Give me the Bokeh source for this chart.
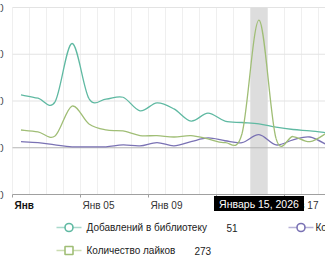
import numpy as np
from bokeh.plotting import figure
from bokeh.models import Range1d, ColumnDataSource
from bokeh.layouts import column
from bokeh.embed import file_html
from bokeh.resources import INLINE
from bokeh.core.properties import value

# ---------------- data ----------------
days = list(range(1, 20))  # January 1..19, 2026
series_names = ["Добавлений в библиотеку", "Количество комментариев", "Количество лайков"]
adds = [113, 106, 98, 223, 105, 104, 108, 79, 96, 83, 57, 74, 57, 54, 51, 44, 39, 36, 32]
comments = [13, 11, 6, 2, 2, 2, 6, 4, 11, 4, 13, 21, 15, 11, 28, 6, 17, 23, 6]
likes = [38, 34, 25, 89, 51, 38, 36, 26, 26, 23, 26, 19, 11, 30, 273, 20, 24, 13, 32]
tick_days = [1, 5, 9, 13, 17]
tick_labels = ["Янв", "Янв 05", "Янв 09", "Янв 13", "Янв 17"]
y_ticks = [-100, 0, 100, 200, 300]
y_tick_labels = ["-100", "0", "100", "200", "300"]
selected_day = 15
selected_label = "Январь 15, 2026"

# ---------------- style / layout ----------------
colors = ["#5fb9a2", "#7a72b4", "#a0be76"]
light_colors = ["#a9d9cc", "#b7b2d8", "#cadcb0"]
FONT = "Liberation Sans"
PX_PER_DAY = 17.0
LEFT_PX = 12          # plot area starts here
TOP_PX = 7            # top gridline
PLOT_H_PX = 187       # from top gridline to axis line
FIG1_H = 215
YPX = (y_ticks[-1] - y_ticks[0]) / PLOT_H_PX   # value units per pixel
XPX = 1.0 / PX_PER_DAY                          # days per pixel

x_start = -LEFT_PX * XPX
x_end = (325 - LEFT_PX) * XPX
y_top = y_ticks[-1] + TOP_PX * YPX
y_bot = y_ticks[0] - (FIG1_H - TOP_PX - PLOT_H_PX) * YPX

p = figure(width=325, height=FIG1_H,
           x_range=Range1d(x_start, x_end), y_range=Range1d(y_bot, y_top),
           x_axis_type=None, y_axis_type=None,
           toolbar_location=None, output_backend="svg",
           min_border_left=0, min_border_right=0, min_border_top=0, min_border_bottom=0)
p.outline_line_color = None
p.background_fill_color = "white"
p.border_fill_color = "white"

# vertical day gridlines
vx = list(range(0, len(days)))
p.segment(x0=vx, y0=[y_ticks[0]] * len(vx), x1=vx, y1=[y_ticks[-1]] * len(vx),
          line_color="#efefef", line_width=1)
# horizontal gridlines
hy = [t for t in y_ticks if t > 0]
p.segment(x0=[0] * len(hy), y0=hy, x1=[x_end] * len(hy), y1=hy, line_color="#e3e3e3", line_width=1)

# highlighted day band
p.quad(left=[selected_day - 1], right=[selected_day], bottom=[y_ticks[0]], top=[y_ticks[-1]],
       fill_color="#dddddd", line_color=None)

# zero line
p.segment(x0=[0], y0=[0], x1=[x_end], y1=[0], line_color="#b4b4b4", line_width=1)
# axis line and ticks
p.segment(x0=[0], y0=[y_ticks[0]], x1=[x_end], y1=[y_ticks[0]], line_color="#a0a0a0", line_width=1)
tx = [d - 1 for d in tick_days]
p.segment(x0=tx, y0=[y_ticks[0]] * len(tx), x1=tx, y1=[y_ticks[0] - 3 * YPX] * len(tx),
          line_color="#a0a0a0", line_width=1)


def bezier_segments(xs, ys):
    xs = np.asarray(xs, dtype=float)
    ys = np.asarray(ys, dtype=float)
    n = len(xs)
    out = {k: [] for k in ("x0", "y0", "x1", "y1", "cx0", "cy0", "cx1", "cy1")}
    for i in range(n - 1):
        i0 = max(i - 1, 0)
        i3 = min(i + 2, n - 1)
        out["x0"].append(xs[i]); out["y0"].append(ys[i])
        out["x1"].append(xs[i + 1]); out["y1"].append(ys[i + 1])
        out["cx0"].append(xs[i] + (xs[i + 1] - xs[i0]) / 6)
        out["cy0"].append(ys[i] + (ys[i + 1] - ys[i0]) / 6)
        out["cx1"].append(xs[i + 1] - (xs[i3] - xs[i]) / 6)
        out["cy1"].append(ys[i + 1] - (ys[i3] - ys[i]) / 6)
    return ColumnDataSource(out)


xc = [d - 0.5 for d in days]  # day centres
for vals, col in zip([adds, comments, likes], colors):
    src = bezier_segments(xc, vals)
    p.bezier(x0="x0", y0="y0", x1="x1", y1="y1", cx0="cx0", cy0="cy0", cx1="cx1", cy1="cy1",
             source=src, line_color=col, line_width=1.3)

# y tick labels (mostly cut off at the left edge)
p.text(x=[-9 * XPX] * len(y_ticks), y=y_ticks, text=y_tick_labels, text_align="right",
       text_baseline="middle", text_font=value(FONT), text_font_size="10px", text_color="#444444")

# x tick labels
lab_y = y_ticks[0] - 11 * YPX
p.text(x=[tx[0] + 2 * XPX], y=[lab_y], text=[tick_labels[0]], text_align="left",
       text_baseline="middle", text_font=value(FONT), text_font_size="10px",
       text_font_style="bold", text_color="#111111")
p.text(x=[t + 2 * XPX for t in tx[1:]], y=[lab_y] * (len(tx) - 1), text=tick_labels[1:],
       text_align="left", text_baseline="middle", text_font=value(FONT), text_font_size="10px",
       text_color="#333333")

# selected date box
box_y = y_ticks[0] - 9 * YPX
p.rect(x=[selected_day - 0.5], y=[box_y], width=90, height=15, width_units="screen",
       height_units="screen", fill_color="black", line_color=None)
p.text(x=[selected_day - 0.5], y=[box_y], text=[selected_label], text_align="center",
       text_baseline="middle", text_font=value(FONT), text_font_size="10.5px", text_color="white")

# ---------------- legend ----------------
q = figure(width=325, height=55, x_range=Range1d(0, 325), y_range=Range1d(55, 0),
           x_axis_type=None, y_axis_type=None, toolbar_location=None, output_backend="svg",
           min_border_left=0, min_border_right=0, min_border_top=0, min_border_bottom=0)
q.outline_line_color = None

icon_x = [56, 288, 56]
text_x = [86, 315, 86]
leg_y = [12, 12, 35]
val_x = [226, 470, 194]
markers = ["circle", "circle", "square"]
sel_idx = days.index(selected_day)
sel_vals = [str(adds[sel_idx]), str(comments[sel_idx]), str(likes[sel_idx])]

for i in range(3):
    q.segment(x0=[icon_x[i]], y0=[leg_y[i]], x1=[icon_x[i] + 25], y1=[leg_y[i]],
              line_color=light_colors[i], line_width=1.5)
    q.scatter(x=[icon_x[i] + 12.5], y=[leg_y[i]], marker=markers[i], size=8,
              fill_color="white", line_color=colors[i], line_width=1.6)
    q.text(x=[text_x[i]], y=[leg_y[i]], text=[series_names[i]], text_baseline="middle",
           text_font=value(FONT), text_font_size="10px", text_color="#222222")
    q.text(x=[val_x[i]], y=[leg_y[i]], text=[sel_vals[i]], text_baseline="middle",
           text_font=value(FONT), text_font_size="10px", text_color="#222222")

layout = column(p, q, spacing=0)
open("out.html", "w").write(file_html(layout, INLINE))
